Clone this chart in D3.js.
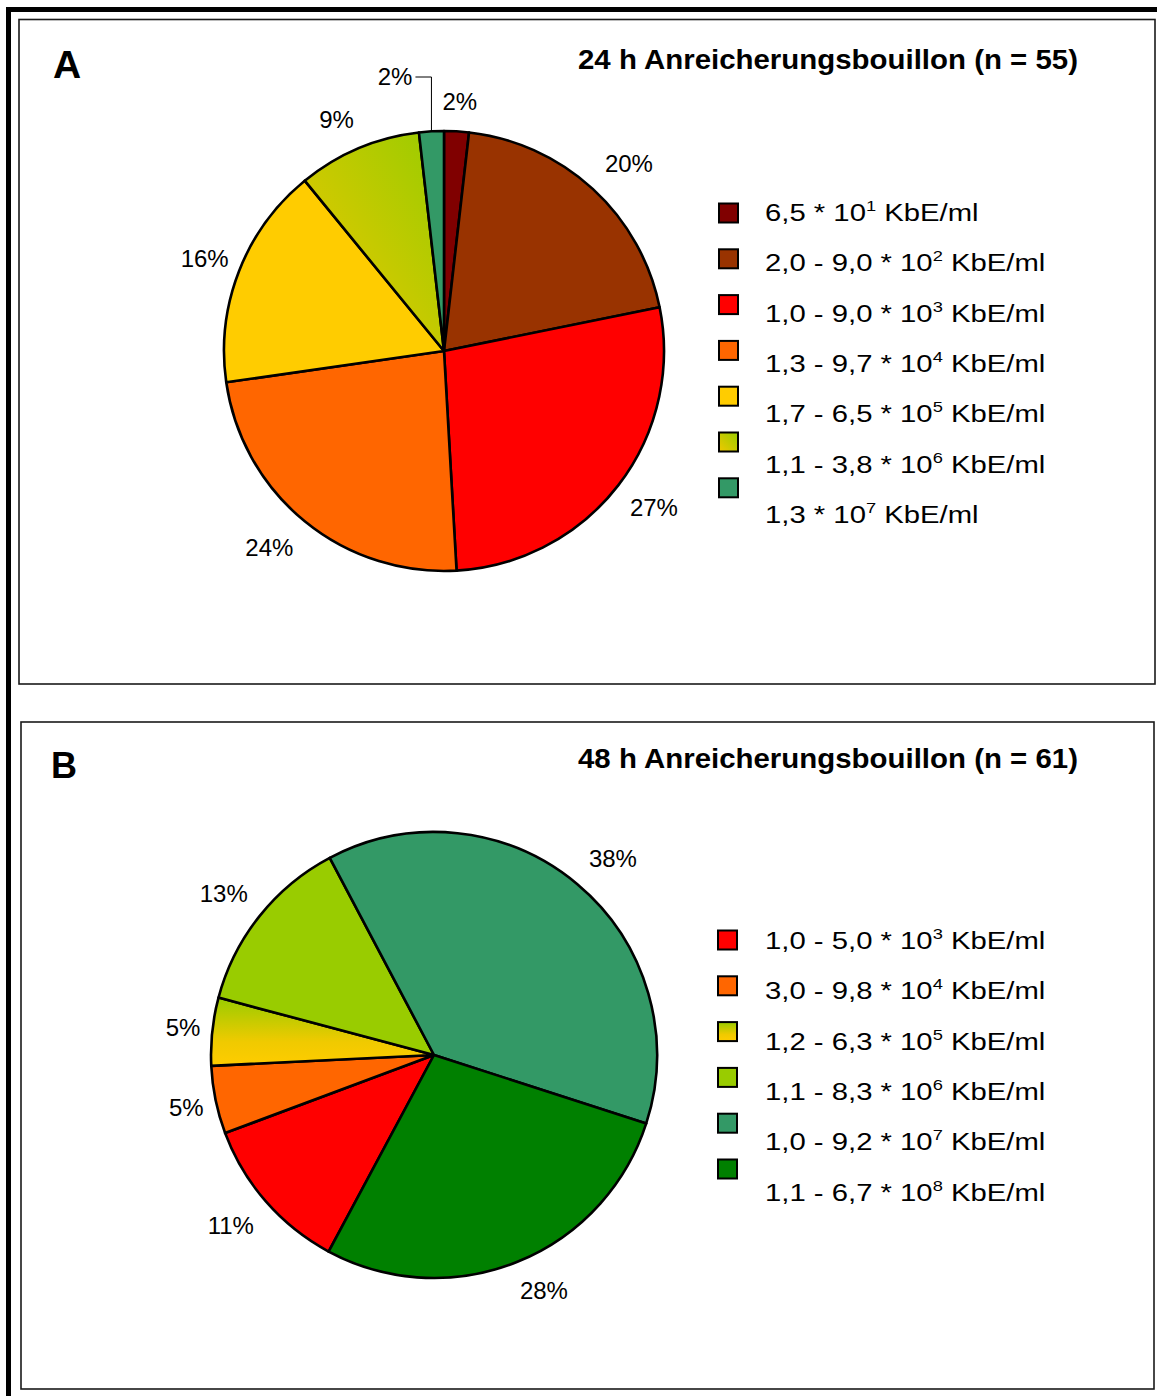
<!DOCTYPE html>
<html><head><meta charset="utf-8">
<script src="https://cdn.jsdelivr.net/npm/d3@7"></script>
<style>
html,body{margin:0;padding:0;background:#fff;}
svg{display:block;font-family:"Liberation Sans",Arial,sans-serif;}
</style></head>
<body>
<svg id="c" width="1157" height="1396"></svg>
<script>
// ---- Data ----
const titleA = "24 h Anreicherungsbouillon (n = 55)";
const countsA = [1, 11, 15, 13, 9, 5, 1];
const rangesA = ["6,5", "2,0 - 9,0", "1,0 - 9,0", "1,3 - 9,7", "1,7 - 6,5", "1,1 - 3,8", "1,3"];
const expsA = ["1", "2", "3", "4", "5", "6", "7"];
const colorsA = ["#800000", "#993300", "#FF0000", "#FF6600", "#FFCC00", "url(#gradA)", "#339966"];
const leaderA = [false, false, false, false, false, false, true];

const titleB = "48 h Anreicherungsbouillon (n = 61)";
const countsB = [7, 3, 3, 8, 23, 17];
const rangesB = ["1,0 - 5,0", "3,0 - 9,8", "1,2 - 6,3", "1,1 - 8,3", "1,0 - 9,2", "1,1 - 6,7"];
const expsB = ["3", "4", "5", "6", "7", "8"];
const colorsB = ["#FF0000", "#FF6600", "url(#gradB)", "#99CC00", "#339966", "#008000"];
const leaderB = [false, false, false, false, false, false];

const unit = " KbE/ml";

// ---- Drawing ----
const svg = d3.select("#c");
const defs = svg.append("defs");
function grad(id, x1, y1, x2, y2, stops) {
  const g = defs.append("linearGradient").attr("id", id)
    .attr("x1", x1).attr("y1", y1).attr("x2", x2).attr("y2", y2);
  stops.forEach(s => g.append("stop").attr("offset", s[0]).attr("stop-color", s[1]));
}
grad("gradA", 0, 1, 1, 0, [[0, "#F0C800"], [1, "#99CC00"]]);
grad("gradB", 0, 0, 0, 1, [[0, "#99CC00"], [0.65, "#F0CA00"], [1, "#FFCC00"]]);

// outer frame
const fp = d3.path(); fp.moveTo(8.5, 1396); fp.lineTo(8.5, 9.5); fp.lineTo(1157, 9.5);
svg.append("path").attr("d", fp.toString())
  .attr("fill", "none").attr("stroke", "#000").attr("stroke-width", 5);

const clamp = v => Math.max(-1, Math.min(1, v));

function panel(cfg) {
  const g = svg.append("g");
  g.append("rect").attr("x", cfg.box[0]).attr("y", cfg.box[1]).attr("width", cfg.box[2]).attr("height", cfg.box[3])
    .attr("fill", "#fff").attr("stroke", "#1a1a1a").attr("stroke-width", 1.6);
  g.append("text").attr("x", cfg.letterPos[0]).attr("y", cfg.letterPos[1])
    .attr("font-size", cfg.letterSize).attr("font-weight", "bold").text(cfg.letter);
  g.append("text").attr("transform", `translate(${cfg.titlePos[0]},${cfg.titlePos[1]}) scale(1.09,1)`)
    .attr("font-size", 27).attr("font-weight", "bold").text(cfg.title);

  const data = cfg.counts.map((c, i) => ({ c, i }));
  const total = d3.sum(cfg.counts);
  const pie = d3.pie().sort(null).value(d => d.c)
    .startAngle(cfg.start).endAngle(cfg.start + 2 * Math.PI);
  const arcs = pie(data);
  const arc = d3.arc().innerRadius(0).outerRadius(cfg.r);
  const pg = g.append("g").attr("transform", `translate(${cfg.cx},${cfg.cy})`);
  pg.selectAll("path.slice").data(arcs).join("path").attr("class", "slice")
    .attr("d", arc).attr("fill", d => cfg.colors[d.data.i])
    .attr("stroke", "#000").attr("stroke-width", 2.6).attr("stroke-linejoin", "round");

  // labels (Excel-like placement: anchor point just outside the rim, label pushed outward by its half size)
  arcs.forEach(a => {
    const mid = (a.startAngle + a.endAngle) / 2;
    const pct = Math.round(a.data.c / total * 100) + "%";
    if (cfg.leader[a.data.i]) {
      const x0 = cfg.r * Math.sin(mid), y0 = -cfg.r * Math.cos(mid);
      const yTop = -cfg.r - 54;
      pg.append("path").attr("d", `M${x0},${y0}L${x0},${yTop}L${x0 - 16},${yTop}`)
        .attr("fill", "none").attr("stroke", "#000").attr("stroke-width", 1);
      pg.append("text").attr("x", x0 - 19).attr("y", yTop).attr("dy", "0.35em")
        .attr("text-anchor", "end").attr("font-size", 24).text(pct);
    } else {
      const R = cfg.r + 18;
      const s = Math.sin(mid), c = Math.cos(mid);
      const t = pg.append("text").attr("text-anchor", "middle").attr("font-size", 24).attr("dy", "0.35em").text(pct);
      const w = t.node().getComputedTextLength();
      const hw = w / 2, hh = 12;
      const fx = clamp(2.2 * s) * (1 - 0.35 * Math.max(0, Math.abs(s) - 0.7) / 0.3);
      const fy = clamp(1.5 * c);
      t.attr("x", R * s + hw * fx).attr("y", -R * c - hh * fy);
    }
  });

  // legend
  const lg = g.append("g");
  cfg.ranges.forEach((r, i) => {
    lg.append("rect").attr("x", cfg.legX).attr("y", cfg.legY + i * 45.8).attr("width", 19).attr("height", 19)
      .attr("fill", cfg.colors[i]).attr("stroke", "#000").attr("stroke-width", 2);
    const t = lg.append("text").attr("transform", `translate(${cfg.legTX},${cfg.legTY + i * 50.3}) scale(1.22,1)`)
      .attr("font-size", 24);
    t.append("tspan").text(r + " * 10");
    t.append("tspan").attr("dy", -10).attr("font-size", 15).text(cfg.exps[i]);
    t.append("tspan").attr("dy", 10).text(unit);
  });
}

panel({
  box: [19, 19.5, 1136, 664.5], letter: "A", letterPos: [53, 78], letterSize: 39,
  title: titleA, titlePos: [578, 69],
  counts: countsA, colors: colorsA, ranges: rangesA, exps: expsA, leader: leaderA,
  cx: 444, cy: 351, r: 220, start: 0,
  legX: 719, legY: 203.5, legTX: 765, legTY: 221
});
panel({
  box: [21, 722, 1133, 667], letter: "B", letterPos: [51, 778], letterSize: 36,
  title: titleB, titlePos: [578, 768],
  counts: countsB, colors: colorsB, ranges: rangesB, exps: expsB, leader: leaderB,
  cx: 434, cy: 1055, r: 223, start: 208.2 * Math.PI / 180,
  legX: 718, legY: 930.5, legTX: 765, legTY: 949
});
</script>
</body></html>
